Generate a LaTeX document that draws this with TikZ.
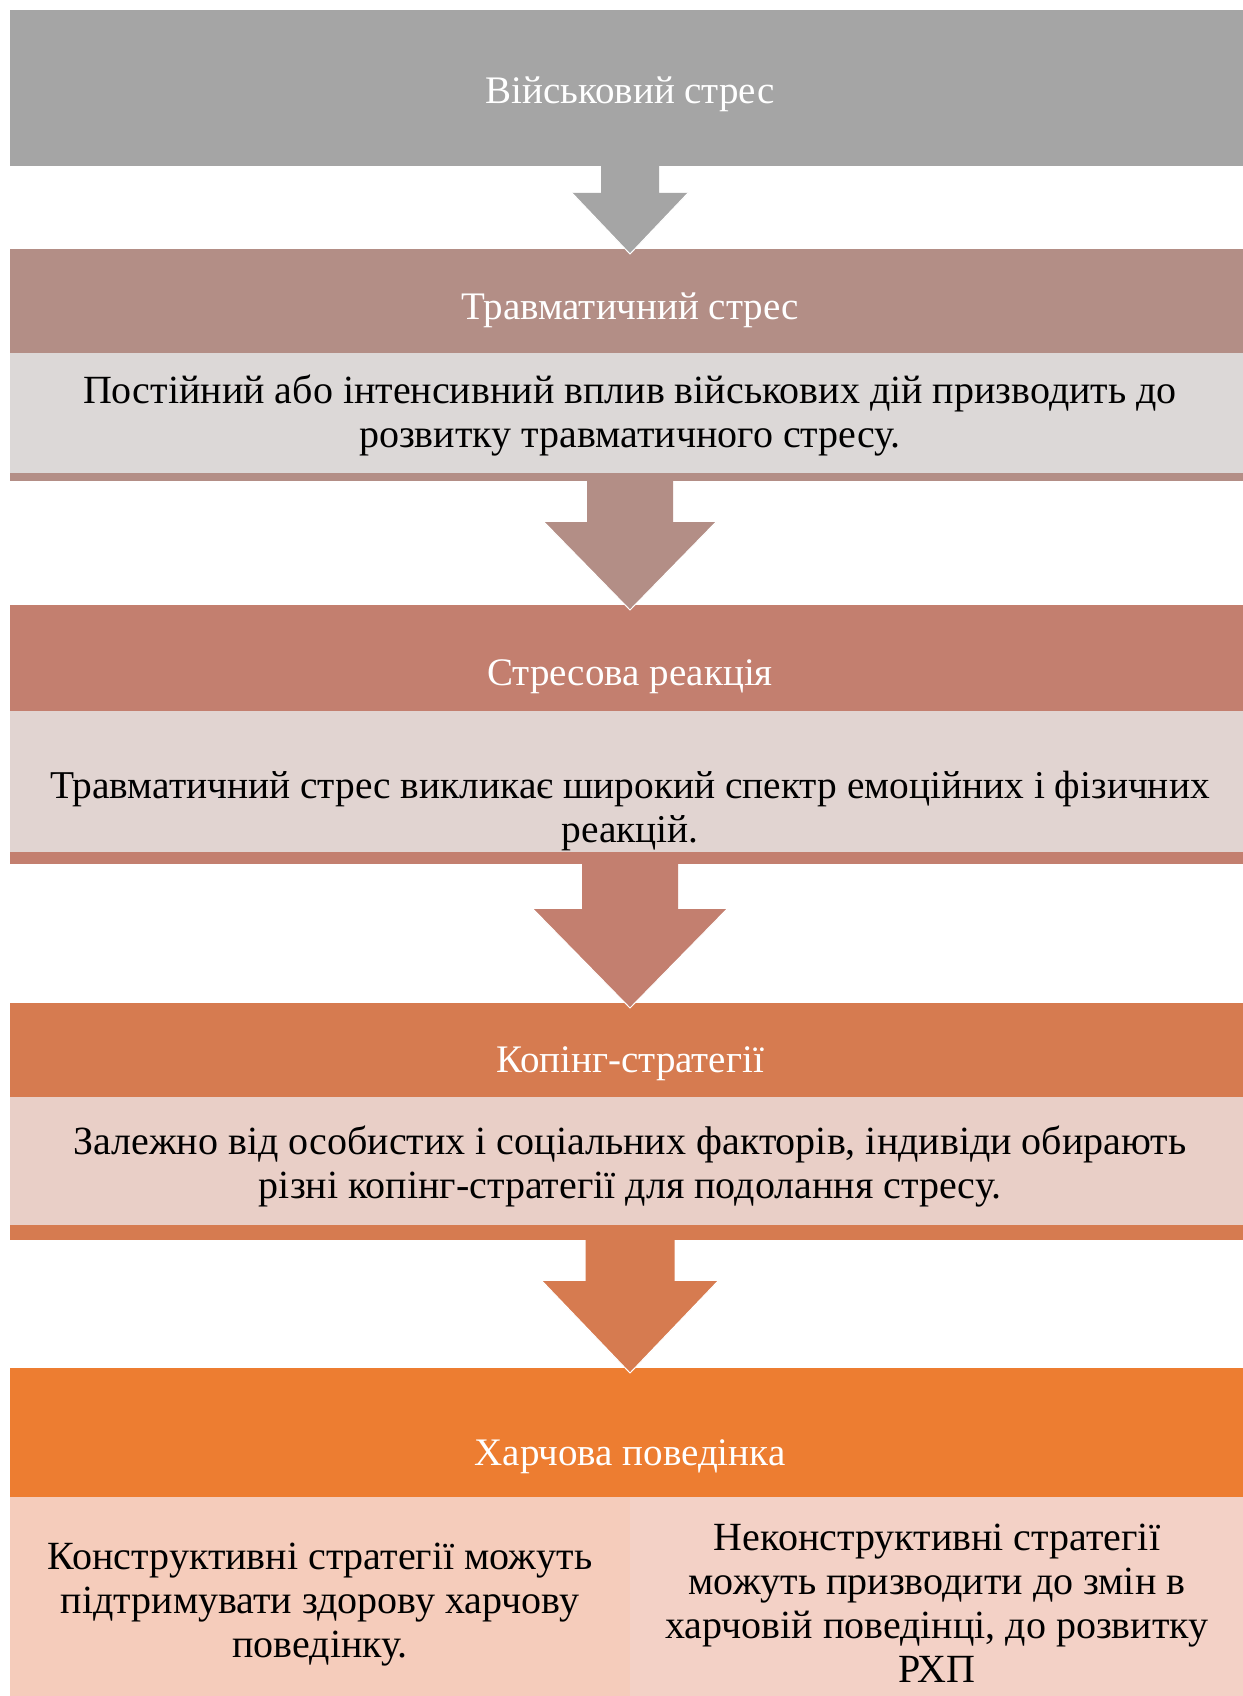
\documentclass[tikz,border=0pt]{standalone}
\usepackage{fontspec}
\setmainfont{Liberation Serif}
\usetikzlibrary{calc}
\definecolor{cA}{HTML}{A5A5A5}
\definecolor{cBh}{HTML}{B38E86}
\definecolor{cBb}{HTML}{DCD8D7}
\definecolor{cCh}{HTML}{C37F6F}
\definecolor{cCb}{HTML}{E1D4D1}
\definecolor{cDh}{HTML}{D67B50}
\definecolor{cDb}{HTML}{E9CFC7}
\definecolor{cEh}{HTML}{ED7D31}
\definecolor{cEl}{HTML}{F5CCBB}
\definecolor{cEr}{HTML}{F3D1C6}
\newcommand{\blockarr}[6]{%
  \fill[#1] let \p1=(#2.south), \p2=(#3.north) in
    (\x1-#4pt,\y1) -- (\x1-#4pt,\y2-5pt+#6pt) -- (\x1-#5pt,\y2-5pt+#6pt) -- (\x1,\y2-5pt)
    -- (\x1+#5pt,\y2-5pt+#6pt) -- (\x1+#4pt,\y2-5pt+#6pt) -- (\x1+#4pt,\y1) -- cycle;
  \draw[white, line width=1pt, line join=miter] let \p1=(#2.south), \p2=(#3.north) in
    (\x1-#5pt,\y2-5pt+#6pt) -- (\x1,\y2-5pt) -- (\x1+#5pt,\y2-5pt+#6pt);
}
\tikzset{
  box/.style={rectangle, draw=none, inner sep=0pt, outer sep=0pt, anchor=north west},
  htxt/.style={inner sep=0pt, text=white, font=\fontsize{39}{45}\selectfont},
  btxt/.style={inner sep=0pt, text=black, align=center, font=\fontsize{40}{44}\selectfont},
}
\begin{document}
\begin{tikzpicture}[x=1pt,y=-1pt]
\useasboundingbox (0,0) rectangle (1242,1696);
\fill[white] (0,0) rectangle (1242,1696);
% box 1
\node[box, fill=cA, minimum width=1240pt, minimum height=156pt] (h1) at (10,10) {};
\node[htxt] (t1) at (630,94) {Військовий стрес};
% box 2
\node[box, fill=cBh, minimum width=1240pt, minimum height=232pt] (h2) at (10,249) {};
\node[box, fill=cBb, minimum width=1240pt, minimum height=120pt] (d2) at (10,353) {};
\node[htxt] (t2) at (630,310) {Травматичний стрес};
\node[btxt] (p2) at (630,415) {Постійний або інтенсивний вплив військових дій призводить до\\розвитку травматичного стресу.};
% box 3
\node[box, fill=cCh, minimum width=1240pt, minimum height=259pt] (h3) at (10,605) {};
\node[box, fill=cCb, minimum width=1240pt, minimum height=141pt] (d3) at (10,711) {};
\node[htxt] (t3) at (630,677) {Стресова реакція};
\node[btxt, font=\fontsize{39.4}{44}\selectfont] (p3) at (630,811) {Травматичний стрес викликає широкий спектр емоційних і фізичних\\реакцій.};
% box 4
\node[box, fill=cDh, minimum width=1240pt, minimum height=237pt] (h4) at (10,1003) {};
\node[box, fill=cDb, minimum width=1240pt, minimum height=128pt] (d4) at (10,1097) {};
\node[htxt] (t4) at (630,1064) {Копінг-стратегії};
\node[btxt] (p4) at (630,1166) {Залежно від особистих і соціальних факторів, індивіди обирають\\різні копінг-стратегії для подолання стресу.};
% box 5
\node[box, fill=cEh, minimum width=1240pt, minimum height=340pt] (h5) at (10,1368) {};
\node[box, fill=cEl, minimum width=620pt, minimum height=210pt] (d5l) at (10,1497) {};
\node[box, fill=cEr, minimum width=620pt, minimum height=210pt] (d5r) at (630,1497) {};
\node[htxt] (t5) at (630,1457) {Харчова поведінка};
\node[btxt] (p5l) at (320,1605) {Конструктивні стратегії можуть\\підтримувати здорову харчову\\поведінку.};
\node[btxt] (p5r) at (937,1603) {Неконструктивні стратегії\\можуть призводити до змін в\\харчовій поведінці, до розвитку\\РХП};
% arrows
\blockarr{cA}{h1}{h2}{29}{58}{61}
\blockarr{cBh}{h2}{h3}{43}{86}{88}
\blockarr{cCh}{h3}{h4}{48}{97}{99}
\blockarr{cDh}{h4}{h5}{44.5}{88}{92}
\end{tikzpicture}
\end{document}
